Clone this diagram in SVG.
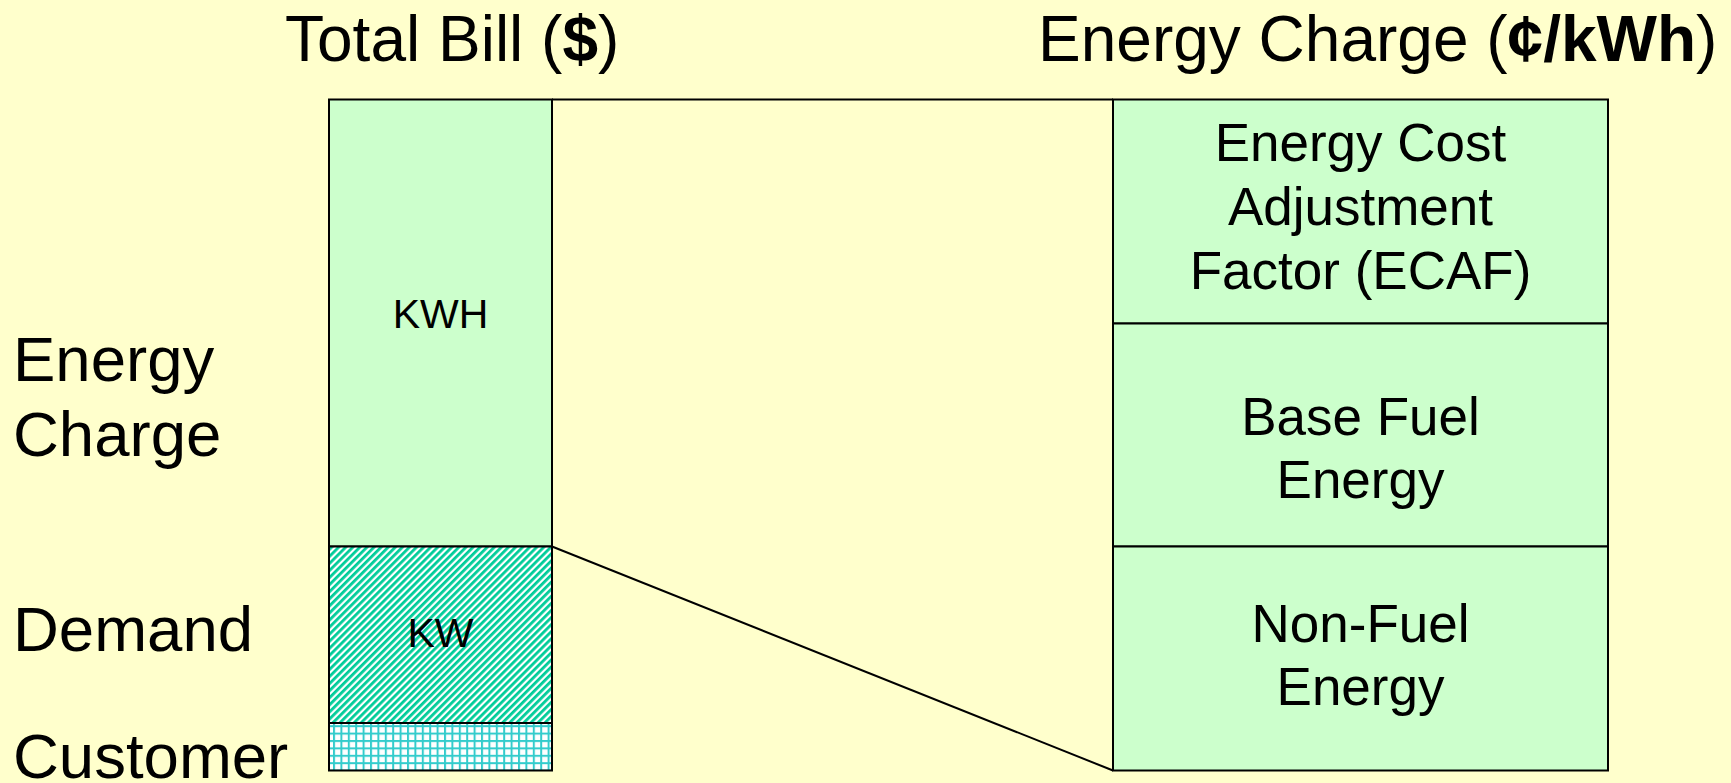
<svg xmlns="http://www.w3.org/2000/svg" width="1731" height="783" viewBox="0 0 1731 783">
<defs>
<style>
text{font-family:"Liberation Sans",Arial,sans-serif;fill:#000}
.h{font-size:64px}
.lab{font-size:63.5px}
.box{font-size:53px;text-anchor:middle}
.small{font-size:41px;text-anchor:middle}
.cell{stroke:#000;stroke-width:2}
.g{fill:#CCFFCC}
</style>
<pattern id="diag" width="5" height="5" patternUnits="userSpaceOnUse" patternTransform="rotate(45)">
<rect width="5" height="5" fill="#ffffff"/>
<rect width="2.8" height="5" fill="#00CC99"/>
</pattern>
<pattern id="grid" width="7.4" height="7.4" patternUnits="userSpaceOnUse">
<rect width="7.4" height="7.4" fill="#ffffff"/>
<rect width="2" height="7.4" fill="#33CCCC"/>
<rect width="7.4" height="2" fill="#33CCCC"/>
</pattern>
</defs>
<rect width="1731" height="783" fill="#FFFFCC"/>
<text class="h" x="285" y="61">Total Bill (<tspan font-weight="bold">$</tspan>)</text>
<text class="h" x="1038" y="61" font-size="64.8">Energy Charge (<tspan font-weight="bold">¢/kWh</tspan>)</text>
<g id="labels">
<text class="lab" x="13" y="381">Energy</text>
<text class="lab" x="13" y="456">Charge</text>
<text class="lab" x="13" y="651">Demand</text>
<text class="lab" x="13" y="778">Customer</text>
</g>
<g id="connectors" stroke="#000" stroke-width="2" fill="none">
<line x1="552" y1="99.5" x2="1113" y2="99.5"/>
<line x1="552" y1="546.5" x2="1113" y2="770.5"/>
</g>
<g id="kwh">
<rect class="cell g" x="329" y="99.5" width="223" height="447"/>
<text class="small" x="440.5" y="328">KWH</text>
</g>
<g id="kw">
<rect class="cell" fill="url(#diag)" x="329" y="546.5" width="223" height="176.5"/>
<text class="small" x="440.5" y="647">KW</text>
</g>
<g id="customer">
<rect class="cell" fill="url(#grid)" x="329" y="723" width="223" height="47.5"/>
</g>
<g id="ecaf">
<rect class="cell g" x="1113" y="99.5" width="495" height="224"/>
<text class="box" x="1360.5" y="161">Energy Cost</text>
<text class="box" x="1360.5" y="225">Adjustment</text>
<text class="box" x="1360.5" y="289">Factor (ECAF)</text>
</g>
<g id="basefuel">
<rect class="cell g" x="1113" y="323.5" width="495" height="223"/>
<text class="box" x="1360.5" y="435">Base Fuel</text>
<text class="box" x="1360.5" y="498">Energy</text>
</g>
<g id="nonfuel">
<rect class="cell g" x="1113" y="546.5" width="495" height="224"/>
<text class="box" x="1360.5" y="642">Non-Fuel</text>
<text class="box" x="1360.5" y="705">Energy</text>
</g>
</svg>
